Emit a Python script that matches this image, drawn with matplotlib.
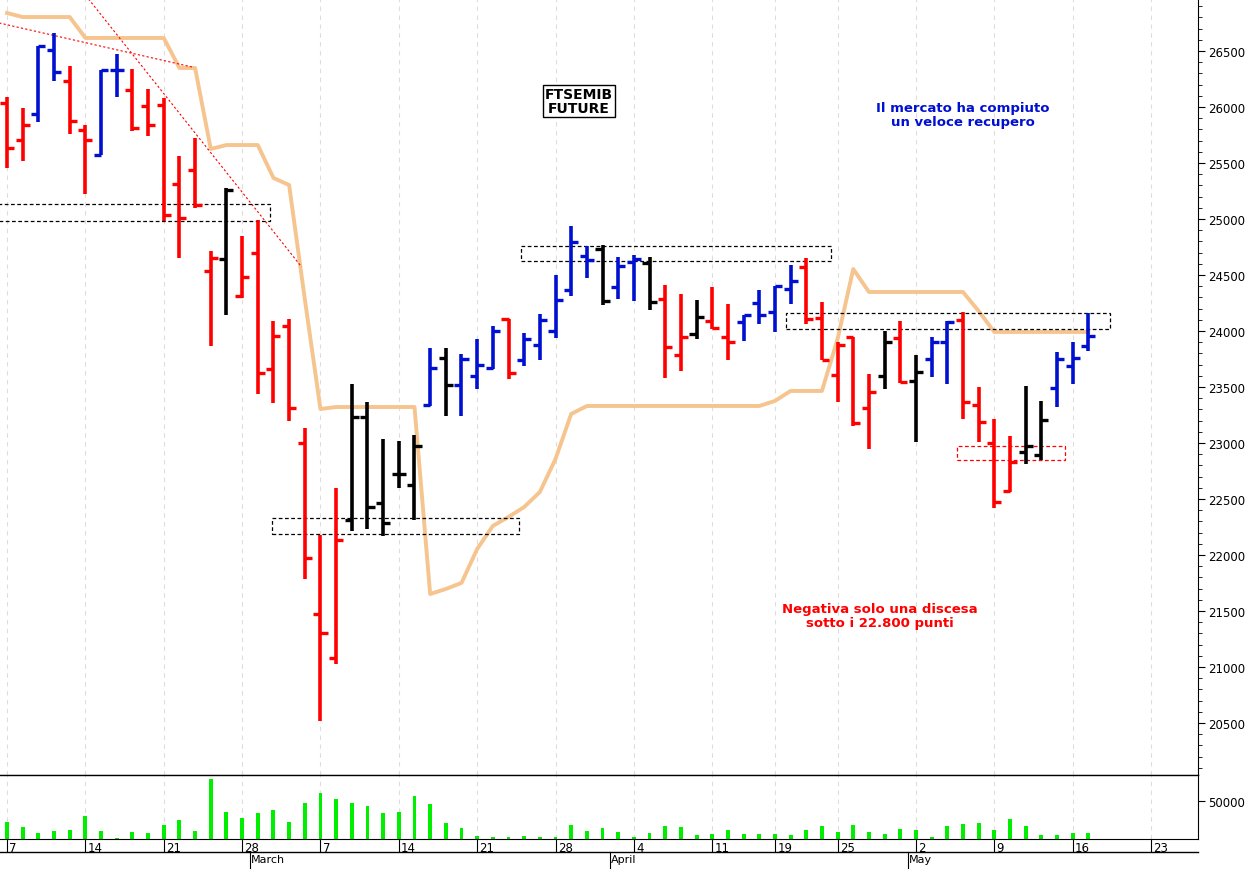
import numpy as np
import matplotlib.pyplot as plt
from matplotlib.patches import Rectangle

# OHLC for trading days from Feb 7 2022 (index 0) to May 17 2022
opens = [26035, 25705, 25937, 26509, 26232, 25794, 25571, 26330, 26151, 26009,
         26018, 25312, 25437, 24535, 24642, 24312, 24696, 23660, 24044, 23000,
         21473, 21080, 22312, 23232, 22464, 22723, 22624, 23339, 23759, 23517,
         23598, 23669, 24107, 23741, 23875, 24000, 24366, 24669, 24732, 24392,
         24616, 24607, 24285, 23785, 23973, 24089, 23946, 24080, 24250, 24169,
         24375, 24571, 24116, 23607, 23946, 23312, 23598, 23937, 23553, 23750,
         23901, 24098, 23339, 23000, 22571, 22919, 22892, 23491, 23687, 23866]
highs = [26089, 25991, 26544, 26660, 26366, 25839, 26330, 26473, 26339, 26160,
         26080, 25562, 25723, 24714, 25276, 24848, 24991, 24089, 24107, 23133,
         22178, 22598, 23526, 23366, 23035, 23017, 23071, 23848, 23848, 23794,
         23928, 24044, 24107, 23982, 24151, 24500, 24937, 24759, 24767, 24660,
         24678, 24660, 24410, 24330, 24276, 24392, 24241, 24142, 24366, 24401,
         24589, 24651, 24259, 23901, 23946, 23616, 24000, 24089, 23785, 23946,
         24089, 24169, 23500, 23214, 23062, 23508, 23375, 23812, 23901, 24160]
lows = [25455, 25518, 25866, 26232, 25759, 25223, 25571, 26089, 25785, 25741,
        24982, 24651, 25098, 23866, 24142, 24294, 23437, 23357, 23196, 21785,
        20517, 21026, 22214, 22232, 22169, 22598, 22312, 23330, 23241, 23241,
        23482, 23660, 23571, 23687, 23741, 23937, 24312, 24473, 24232, 24285,
        24267, 24187, 23580, 23642, 23928, 24017, 23741, 23910, 24062, 23991,
        24241, 24062, 23741, 23366, 23151, 22946, 23482, 23535, 23008, 23589,
        23526, 23214, 23008, 22419, 22562, 22812, 22848, 23321, 23526, 23821]
closes = [25634, 25839, 26544, 26312, 25875, 25705, 26330, 26330, 25812, 25839,
          25035, 25009, 25125, 24651, 25259, 24482, 23625, 23955, 23312, 21973,
          21303, 22133, 23232, 22428, 22285, 22723, 22973, 23669, 23517, 23750,
          23696, 24000, 23625, 23928, 24098, 24276, 24794, 24634, 24267, 24580,
          24642, 24258, 23857, 23946, 24125, 24026, 23901, 24142, 24142, 24401,
          24446, 24107, 23741, 23875, 23178, 23455, 23901, 23544, 23634, 23901,
          24080, 23366, 23187, 22473, 22830, 22973, 23205, 23750, 23759, 23955]
bar_colors = (['r'] * 2 + ['b'] * 2 + ['r'] * 2 + ['b'] * 2 + ['r'] * 6 + ['k'] +
              ['r'] * 7 + ['k'] * 5 + ['b'] + ['k'] + ['b'] * 3 + ['r'] + ['b'] * 5 +
              ['k'] + ['b'] * 2 + ['k'] + ['r'] * 2 + ['k'] + ['r'] * 2 + ['b'] * 4 +
              ['r'] * 5 + ['k'] + ['r'] + ['k'] + ['b'] * 2 + ['r'] * 4 + ['k'] * 2 + ['b'] * 3)

# trailing stop line (orange)
stop_line = [26839, 26803, 26803, 26803, 26803, 26616, 26616, 26616, 26616, 26616,
             26616, 26348, 26348, 25625, 25660, 25660, 25660, 25366, 25303, 24285,
             23303, 23321, 23321, 23321, 23321, 23321, 23321, 21651, 21696, 21750,
             22053, 22259, 22339, 22428, 22562, 22857, 23259, 23330, 23330, 23330,
             23330, 23330, 23330, 23330, 23330, 23330, 23330, 23330, 23330, 23375,
             23464, 23464, 23464, 23928, 24553, 24348, 24348, 24348, 24348, 24348,
             24348, 24348, 24178, 23991, 23991, 23991, 23991, 23991, 23991, 23991]

volume = [21.9, 15.4, 7.9, 11.0, 12.3, 29.8, 11.0, 0.9, 8.8, 7.9,
          18.4, 25.4, 11.0, 79.0, 35.1, 27.6, 34.2, 38.2, 22.8, 47.4,
          60.5, 52.6, 47.4, 43.9, 34.2, 35.1, 56.1, 45.6, 21.1, 14.0,
          3.5, 2.6, 2.2, 3.5, 2.2, 2.6, 18.4, 10.5, 14.9, 8.8,
          2.6, 7.9, 16.7, 15.4, 5.3, 7.0, 11.4, 7.0, 6.1, 6.1,
          5.3, 11.4, 16.7, 8.8, 18.4, 9.6, 6.1, 13.2, 11.4, 2.6,
          16.7, 19.7, 21.1, 12.3, 26.3, 17.5, 5.3, 5.3, 7.5, 7.5]
volume = [v * 1000 for v in volume]

week_idx = [0, 5, 10, 15, 20, 25, 30, 35, 40, 45, 49, 53, 58, 63, 68, 73]
week_lbl = ['7', '14', '21', '28', '7', '14', '21', '28', '4', '11', '19', '25', '2', '9', '16', '23']
month_idx = [16, 39, 58]
month_lbl = ['March', 'April', 'May']

# dashed boxes: (x0, x1, low, high, color)
boxes = [(-0.6, 16.8, 24982, 25134, 'k'), (16.9, 32.7, 22187, 22330, 'k'),
         (32.8, 52.6, 24625, 24759, 'k'), (49.7, 70.4, 24018, 24160, 'k'),
         (60.6, 67.5, 22848, 22973, 'r')]
trend1 = ([-0.5, 11.8], [26750, 26357])
trend2 = ([5.2, 18.8], [26964, 24571])

W, H = 1247, 870
fig = plt.figure(figsize=(W / 100, H / 100), dpi=100)
ax = fig.add_axes([0, (H - 776) / H, 1198 / W, 776 / H])
axv = fig.add_axes([0, (H - 840) / H, 1198 / W, 64 / H])

x = np.arange(len(opens))
xlim = (-0.45, 76.0)

for a in (ax, axv):
    a.set_xlim(*xlim)
    for xi in week_idx:
        a.axvline(xi, color='#dddddd', lw=0.8, ls=(0, (4, 4)), zorder=0)
    a.spines['left'].set_visible(False)
    a.yaxis.tick_right()
    a.tick_params(axis='y', labelsize=8.5, length=5, pad=2, direction='out')
    a.set_xticks([])

# price panel
ax.set_ylim(20035, 26964)
ax.spines['top'].set_visible(False)
ax.set_yticks(np.arange(20500, 26501, 500))
ax.set_yticks(np.arange(20100, 26964, 100), minor=True)
ax.tick_params(axis='y', which='minor', length=3, direction='out')
ax.plot(x, stop_line, color='#f6c48e', lw=2.8, zorder=1)
ax.plot(*trend1, color='red', lw=0.8, ls=(0, (2, 2)))
ax.plot(*trend2, color='red', lw=0.8, ls=(0, (2, 2)))
for x0, x1, lo, hi, c in boxes:
    ax.add_patch(Rectangle((x0, lo), x1 - x0, hi - lo, fill=False, ec=c, lw=0.9,
                           ls=(0, (3, 2)), zorder=2))
cmap = {'r': '#ff0000', 'b': '#0010d0', 'k': '#000000'}
for i in x:
    c = cmap[bar_colors[i]]
    ax.vlines(i, lows[i], highs[i], color=c, lw=2.6, zorder=3)
    ax.hlines(opens[i], i - 0.45, i, color=c, lw=2.4, zorder=3)
    ax.hlines(closes[i], i, i + 0.45, color=c, lw=2.4, zorder=3)

ax.text(36.5, 26050, 'FTSEMIB\nFUTURE', ha='center', va='center', fontsize=10,
        fontweight='bold', linespacing=1.0,
        bbox=dict(boxstyle='square,pad=0.15', fc='white', ec='black', lw=1))
ax.text(61.0, 25935, 'Il mercato ha compiuto\nun veloce recupero', ha='center', va='center',
        fontsize=9.5, fontweight='bold', color='#0010d0', linespacing=1.1)
ax.text(55.7, 21460, 'Negativa solo una discesa\nsotto i 22.800 punti', ha='center', va='center',
        fontsize=9.5, fontweight='bold', color='red', linespacing=1.1)

# volume panel
axv.set_ylim(0, 84000)
axv.set_yticks([50000])
axv.set_yticklabels(['50000'])
axv.spines['top'].set_linewidth(1)
axv.bar(x, volume, width=0.25, color='#00ee00')

# date axis drawn below the volume panel
tr = axv.get_xaxis_transform()
for xi, lb in zip(week_idx, week_lbl):
    axv.plot([xi, xi], [0, -0.19], transform=tr, color='black', lw=0.8, clip_on=False)
    axv.text(xi + 0.15, -0.03, lb, transform=tr, ha='left', va='top', fontsize=8.5)
axv.plot([xlim[0], xlim[1]], [-0.2, -0.2], transform=tr, color='black', lw=1, clip_on=False)
for xi, lb in zip(month_idx, month_lbl):
    axv.plot([xi - 0.5, xi - 0.5], [-0.2, -0.5], transform=tr, color='black', lw=0.8, clip_on=False)
    axv.text(xi - 0.45, -0.24, lb, transform=tr, ha='left', va='top', fontsize=8)

fig.savefig('out.png', dpi=100)
